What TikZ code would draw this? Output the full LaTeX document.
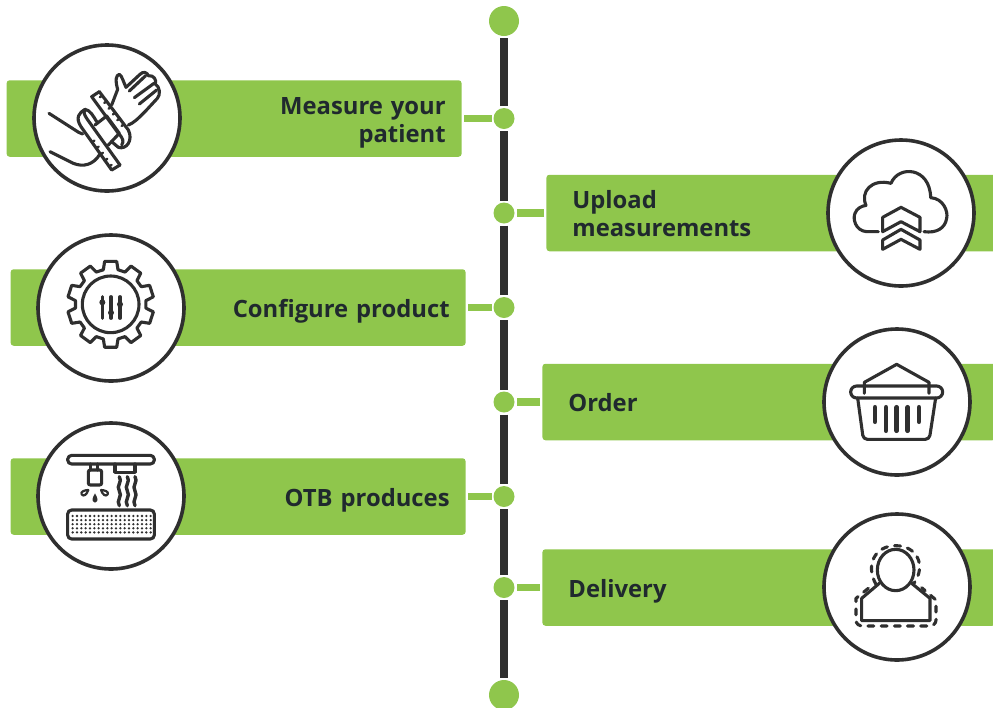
\documentclass[tikz,border=0pt]{standalone}
\usepackage{fontspec}
\setmainfont{Open Sans}
\definecolor{leaf}{HTML}{8FC64C}
\definecolor{ink}{HTML}{2F2F2F}
\definecolor{txt}{HTML}{20292E}
% every line of a bar sits on the same baseline whatever its descenders
\newcommand{\barline}[1]{\smash{#1}\rule{0pt}{9.7pt}}
\begin{document}
\begin{tikzpicture}[x=.5pt,y=-.5pt,
    dot/.style={fill=leaf,circle,inner sep=0pt,minimum size=10.5pt,outer sep=1pt},
    enddot/.style={dot,minimum size=15pt},
    spine/.style={ink,line width=4pt},
    stub/.style={leaf,line width=3.8pt,shorten <=1pt},
    lbox/.style={fill=leaf,rounded corners=1.5pt,anchor=east,minimum height=38.25pt,
        inner xsep=8pt,text width=211.5pt,align=right,text=txt,
        font=\fontsize{11.9}{14}\selectfont\bfseries},
    rbox/.style={lbox,anchor=west,inner xsep=13pt,text width=200.5pt,align=left},
    badge/.style={fill=white,draw=ink,circle,line width=1.8pt,inner sep=0pt,minimum size=73pt},
    iconline/.style={ink,line width=1.55pt,line join=round,line cap=round},
    zoomed/.style={shift={#1},x=.16667pt,y=-.16667pt}]

    \useasboundingbox (0,0) rectangle (993,708);

    % the timeline
    \node[enddot] (top) at (504,21) {};
    \node[dot] (d1) at (504,118.5) {};
    \node[dot] (d2) at (504,213) {};
    \node[dot] (d3) at (504,307.5) {};
    \node[dot] (d4) at (504,402) {};
    \node[dot] (d5) at (504,496.5) {};
    \node[dot] (d6) at (504,587.5) {};
    \node[enddot] (bot) at (504,695) {};

    \draw[spine] (top) -- (d1);
    \draw[spine] (d1) -- (d2);
    \draw[spine] (d2) -- (d3);
    \draw[spine] (d3) -- (d4);
    \draw[spine] (d4) -- (d5);
    \draw[spine] (d5) -- (d6);
    \draw[spine] (d6) -- (bot);

    % the bars
    \node[lbox] (measure) at (462,118.5) {\barline{Measure your}\\\barline{patient}};
    \node[rbox] (upload) at (546,213) {\barline{Upload}\\\barline{measurements}};
    \node[lbox] (config) at (466,307.5) {\barline{Configure product}};
    \node[rbox] (order) at (542,402) {\barline{Order}};
    \node[lbox] (otb) at (466,496.5) {\barline{OTB produces}};
    \node[rbox] (delivery) at (542,587.5) {\barline{Delivery}};

    \draw[stub] (measure) -- (d1);
    \draw[stub] (upload) -- (d2);
    \draw[stub] (config) -- (d3);
    \draw[stub] (order) -- (d4);
    \draw[stub] (otb) -- (d5);
    \draw[stub] (delivery) -- (d6);

    % the badges
    \node[badge] (bmeasure) at (107,118) {};
    \node[badge] (bupload) at (901,213) {};
    \node[badge] (bconfig) at (111,308) {};
    \node[badge] (border) at (897,402) {};
    \node[badge] (botb) at (111,496) {};
    \node[badge] (bdelivery) at (897,587) {};

    % hand and tape
    \begin{scope}[zoomed={(0,30)}]
      \draw[iconline] (335,225) -- (353,178) .. controls (345,150) and (348,135) .. (358,133)
        .. controls (365,135) and (372,160) .. (378,172) -- (420,133)
        .. controls (430,122) and (442,128) .. (445,137)
        .. controls (462,135) and (470,150) .. (466,162)
        .. controls (480,170) and (482,195) .. (472,205) -- (435,245)
        .. controls (415,265) and (400,280) .. (385,285);
      \draw[iconline] (388,183) -- (437,137);
      \draw[iconline] (403,203) -- (462,160);
      \draw[iconline] (418,222) -- (470,180);
      \draw[iconline] (147,250) -- (225,300) .. controls (232,305) and (240,310) .. (248,312);
      \draw[iconline] (150,365) -- (220,400) .. controls (250,412) and (280,405) .. (300,372);
      \draw[iconline] (298,185) -- (385,300) .. controls (400,330) and (380,360) .. (355,352) -- (335,335);
      \draw[iconline] (298,185) -- (275,200) -- (355,310) .. controls (370,325) and (372,335) .. (365,345);
      \draw[iconline] (360,405) -- (335,420) -- (243,290) .. controls (225,262) and (238,248) .. (255,238)
        .. controls (270,240) and (280,258) .. (290,275);
      \draw[iconline] (360,405) -- (262,268) .. controls (250,250) and (250,245) .. (255,238);
      \draw[iconline] (285,285) -- (320,258) -- (358,310) -- (325,345);
      \foreach \t in {0.1,0.25,...,0.95}
        \draw[iconline,line width=1.2pt] (298+87*\t,185+115*\t) -- ++(-7,5);
      \foreach \t in {0.08,0.22,...,0.75}
        \draw[iconline,line width=1.2pt] (335-92*\t,420-130*\t) -- ++(7,-5);
    \end{scope}

    % cloud and chevrons
    \begin{scope}[zoomed={(810,130)}]
      \draw[iconline] (205,305) -- (170,305) .. controls (135,302) and (128,265) .. (135,250)
        .. controls (140,235) and (155,228) .. (168,226)
        .. controls (150,185) and (185,145) .. (243,160)
        .. controls (265,105) and (360,110) .. (362,203)
        .. controls (400,205) and (415,245) .. (410,265)
        .. controls (405,295) and (380,310) .. (342,305);
      \draw[iconline] (218,262) -- (273,232) -- (330,262) -- (330,305) -- (273,275) -- (218,305) -- cycle;
      \draw[iconline] (218,330) -- (273,298) -- (330,330) -- (330,358) -- (273,328) -- (218,358) -- cycle;
    \end{scope}

    % gear and sliders
    \begin{scope}[zoomed={(20,225)}]
      \begin{scope}[shift={(272,238)}]
        \draw[iconline] (78:106) \foreach \a in {90,126,...,414} {
          -- (\a-12:106) -- (\a-8:130) -- (\a+8:130) -- (\a+12:106)} -- cycle;
        \draw[iconline] (0,0) circle (85);
      \end{scope}
      \foreach \x/\k in {247/232,273/263,300/238} {
        \draw[iconline] (\x,215) -- (\x,280);
        \fill[ink] (\x,\k) circle (9);
      }
    \end{scope}

    % basket
    \begin{scope}[zoomed={(810,320)}]
      \draw[iconline,rounded corners=3pt] (122,198) rectangle (398,234);
      \draw[iconline,rounded corners=2pt] (143,234) -- (160,358) -- (358,358) -- (377,234);
      \draw[iconline] (163,220) -- (163,187) -- (260,133) -- (357,187) -- (357,220);
      \foreach \x/\e in {195/305,228/332,260/332,293/332,327/305}
        \draw[iconline,line width=2.4pt] (\x,262) -- (\x,\e);
    \end{scope}

    % printer
    \begin{scope}[zoomed={(20,415)}]
      \draw[iconline,rounded corners=2pt] (143,121) rectangle (403,147);
      \draw[iconline] (212,147) -- (212,165);
      \draw[iconline] (233,147) -- (233,165);
      \draw[iconline,rounded corners=1pt] (205,165) rectangle (245,210);
      \draw[iconline] (285,147) -- (285,172) -- (345,172) -- (345,147);
      \foreach \x in {298,322,345}
        \draw[iconline,line width=1.7pt] (\x,185) .. controls (\x+11,200) and (\x-11,212) .. (\x,228)
          .. controls (\x+11,244) and (\x-11,256) .. (\x,272);
      \draw[iconline,line width=1.1pt] (205,225) .. controls (200,240) and (190,246) .. (185,238)
        .. controls (180,230) and (195,225) .. (205,225);
      \draw[iconline,line width=1.1pt] (243,225) .. controls (248,240) and (258,246) .. (263,238)
        .. controls (268,230) and (253,225) .. (243,225);
      \fill[ink] (225,235) .. controls (232,248) and (238,258) .. (225,263)
        .. controls (212,258) and (218,248) .. (225,235);
      \draw[iconline,rounded corners=2pt] (143,285) rectangle (403,372);
      \foreach \x in {0,...,18}
        \foreach \y in {0,...,4}
          \fill[ink] (158+13*\x,303+12.3*\y) circle (3.8);
    \end{scope}

    % person
    \begin{scope}[zoomed={(810,505)}]
      \draw[iconline] (257,195) ellipse (55 and 62);
      \draw[iconline] (208,235) -- (155,280) -- (155,347) -- (360,347) -- (360,280) -- (305,235);
      \draw[iconline,dash pattern=on 3pt off 3.6pt] (198,238) .. controls (165,180) and (195,122) .. (257,122)
        .. controls (320,122) and (350,180) .. (312,235);
      \draw[iconline,dash pattern=on 3pt off 3.6pt] (175,250) -- (138,280) -- (138,345)
        .. controls (138,358) and (148,363) .. (160,363) -- (355,363)
        .. controls (370,363) and (378,355) .. (378,345) -- (378,285) -- (335,248);
    \end{scope}
  \end{tikzpicture}
\end{document}
